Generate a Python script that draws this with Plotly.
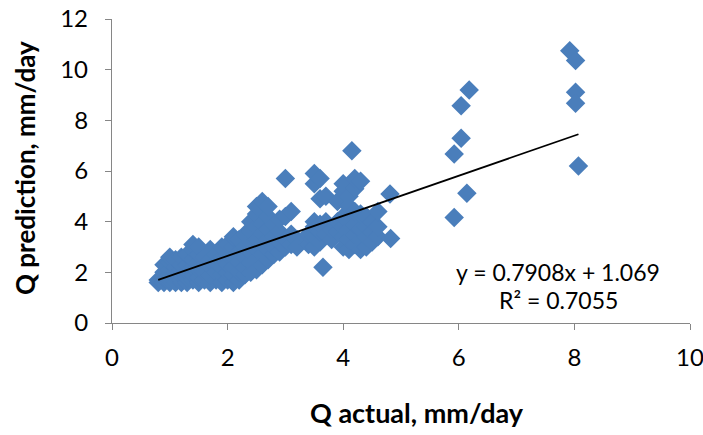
import plotly.graph_objects as go

# Scatter data (Q actual, Q prediction)
q_actual = [
    0.8, 0.8,
    0.9, 0.9, 0.9, 0.9,
    1.0, 1.0, 1.0, 1.0, 1.0, 1.0,
    1.1, 1.1, 1.1, 1.1, 1.1,
    1.2, 1.2, 1.2, 1.2, 1.2, 1.2,
    1.3, 1.3, 1.3, 1.3, 1.3,
    1.4, 1.4, 1.4, 1.4, 1.4, 1.4,
    1.5, 1.5, 1.5, 1.5, 1.5, 1.5,
    1.6, 1.6, 1.6, 1.6,
    1.7, 1.7, 1.7, 1.7, 1.7,
    1.8, 1.8, 1.8, 1.8,
    1.9, 1.9, 1.9, 1.9, 1.9,
    2.0, 2.0, 2.0, 2.0, 2.0,
    2.1, 2.1, 2.1, 2.1, 2.1, 2.1,
    2.2, 2.2, 2.2, 2.2, 2.2,
    2.3, 2.3, 2.3, 2.3, 2.3,
    2.4, 2.4, 2.4, 2.4, 2.4, 2.4,
    2.5, 2.5, 2.5, 2.5, 2.5, 2.5, 2.5,
    2.6, 2.6, 2.6, 2.6, 2.6, 2.6, 2.6,
    2.7, 2.7, 2.7, 2.7, 2.7, 2.7,
    2.8, 2.8, 2.8, 2.8,
    2.9, 2.9, 2.9, 2.9,
    3.0, 3.0, 3.0, 3.0,
    3.1, 3.1, 3.1,
    3.2, 3.2,
    3.4, 3.4,
    3.5, 3.5, 3.5, 3.5, 3.5, 3.5,
    3.6, 3.6, 3.6, 3.6, 3.6, 3.65,
    3.7, 3.7, 3.7,
    3.8, 3.8,
    3.9, 3.9, 3.9,
    4.0, 4.0, 4.0, 4.0, 4.0, 4.0,
    4.1, 4.1, 4.1, 4.1, 4.1, 4.1,
    4.15,
    4.2, 4.2, 4.2, 4.2, 4.2, 4.2,
    4.3, 4.3, 4.3, 4.3, 4.3,
    4.4, 4.4, 4.4, 4.4,
    4.5, 4.5, 4.5,
    4.6, 4.6, 4.6,
    4.81, 4.82,
    5.92, 5.92, 6.04, 6.04, 6.14, 6.18,
    7.92, 8.02, 8.02, 8.02, 8.07,
]
q_prediction = [
    1.6, 1.7,
    1.6, 1.8, 2.0, 2.3,
    1.6, 1.7, 1.9, 2.1, 2.4, 2.6,
    1.6, 1.8, 2.0, 2.2, 2.5,
    1.6, 1.7, 1.9, 2.1, 2.3, 2.6,
    1.6, 1.8, 2.0, 2.3, 2.7,
    1.7, 1.9, 2.2, 2.5, 2.9, 3.1,
    1.6, 1.8, 2.1, 2.4, 2.7, 3.0,
    1.7, 2.0, 2.3, 2.6,
    1.6, 1.9, 2.2, 2.5, 2.9,
    1.7, 2.0, 2.4, 2.7,
    1.6, 1.9, 2.2, 2.6, 3.0,
    1.7, 2.0, 2.3, 2.7, 3.1,
    1.6, 1.9, 2.2, 2.6, 3.0, 3.4,
    1.7, 2.0, 2.4, 2.8, 3.3,
    1.9, 2.2, 2.6, 3.0, 3.5,
    2.0, 2.4, 2.8, 3.2, 3.6, 4.0,
    2.1, 2.5, 2.9, 3.3, 3.8, 4.3, 4.6,
    2.3, 2.7, 3.1, 3.5, 3.9, 4.4, 4.8,
    2.5, 2.9, 3.3, 3.7, 4.2, 4.6,
    2.7, 3.0, 3.4, 3.9,
    2.8, 3.2, 3.6, 4.1,
    3.0, 3.3, 4.2, 5.7,
    3.1, 3.5, 4.4,
    3.3, 3.0,
    3.1, 3.5,
    3.0, 3.4, 3.8, 4.0, 5.5, 5.9,
    3.2, 3.6, 3.9, 4.9, 5.7, 2.2,
    3.5, 4.0, 5.0,
    3.3, 3.7,
    3.6, 4.0, 4.8,
    3.0, 3.4, 3.8, 4.2, 5.2, 5.5,
    2.9, 3.3, 3.7, 4.1, 4.6, 5.0,
    6.8,
    3.1, 3.5, 3.9, 4.4, 5.3, 5.7,
    2.9, 3.3, 3.7, 4.3, 5.6,
    3.0, 3.4, 3.8, 4.2,
    3.2, 3.6, 4.0,
    3.4, 3.8, 4.4,
    5.09, 3.34,
    6.67, 4.16, 8.58, 7.29, 5.12, 9.20,
    10.75, 10.36, 9.11, 8.67, 6.20,
]

# Linear trendline (as reported on the chart)
trend_slope = 0.7908
trend_intercept = 1.069
r_squared = 0.7055

x_ticks = [0, 2, 4, 6, 8, 10]
y_ticks = [0, 2, 4, 6, 8, 10, 12]

x_min, x_max = min(q_actual), max(q_actual)
trend_x = [x_min, x_max]
trend_y = [trend_slope * v + trend_intercept for v in trend_x]

FONT = "Lato, Carlito, Calibri, sans-serif"
AXIS_GREY = "#868686"

fig = go.Figure()
fig.add_trace(go.Scatter(
    x=q_actual, y=q_prediction, mode="markers",
    marker=dict(symbol="diamond", size=15, color="#4A7EBB",
                line=dict(width=0)),
    showlegend=False, hoverinfo="x+y",
))
fig.add_trace(go.Scatter(
    x=trend_x, y=trend_y, mode="lines",
    line=dict(color="black", width=1.8),
    showlegend=False,
))

fig.update_layout(
    width=703, height=435,
    margin=dict(l=112, r=13, t=19, b=112, autoexpand=False),
    paper_bgcolor="white", plot_bgcolor="white",
    font=dict(family=FONT, size=24, color="black"),
    xaxis=dict(
        range=[0, 10], tickvals=x_ticks, ticktext=[str(v) for v in x_ticks],
        showgrid=False, zeroline=False, showline=True, linecolor=AXIS_GREY,
        linewidth=1.3, ticks="outside", ticklen=6, tickcolor=AXIS_GREY,
        tickwidth=1.3, tickfont=dict(size=24), ticklabelstandoff=7,
        automargin=False, ticklabeloverflow="allow",
    ),
    yaxis=dict(
        range=[0, 12], tickvals=y_ticks, ticktext=[str(v) for v in y_ticks],
        showgrid=False, zeroline=False, showline=True, linecolor=AXIS_GREY,
        linewidth=1.3, ticks="outside", ticklen=6, tickcolor=AXIS_GREY,
        tickwidth=1.3, tickfont=dict(size=24), ticklabelstandoff=12,
        automargin=False, ticklabeloverflow="allow",
    ),
    annotations=[
        dict(x=7.72, y=2.01, xref="x", yref="y", showarrow=False,
             text=f"y = {trend_slope}x + {trend_intercept}",
             xanchor="center", yanchor="middle", font=dict(size=23)),
        dict(x=7.72, y=0.91, xref="x", yref="y", showarrow=False,
             text=f"R² = {r_squared}",
             xanchor="center", yanchor="middle", font=dict(size=23)),
        dict(x=0.528, y=-0.293, xref="paper", yref="paper", showarrow=False,
             text="<b>Q actual, mm/day</b>", xanchor="center", yanchor="middle",
             font=dict(size=27)),
        dict(x=-0.1505, y=0.51, xref="paper", yref="paper", showarrow=False,
             text="<b>Q prediction, mm/day</b>", textangle=-90,
             xanchor="center", yanchor="middle", font=dict(size=26)),
    ],
)

fig.write_html("out.html")
